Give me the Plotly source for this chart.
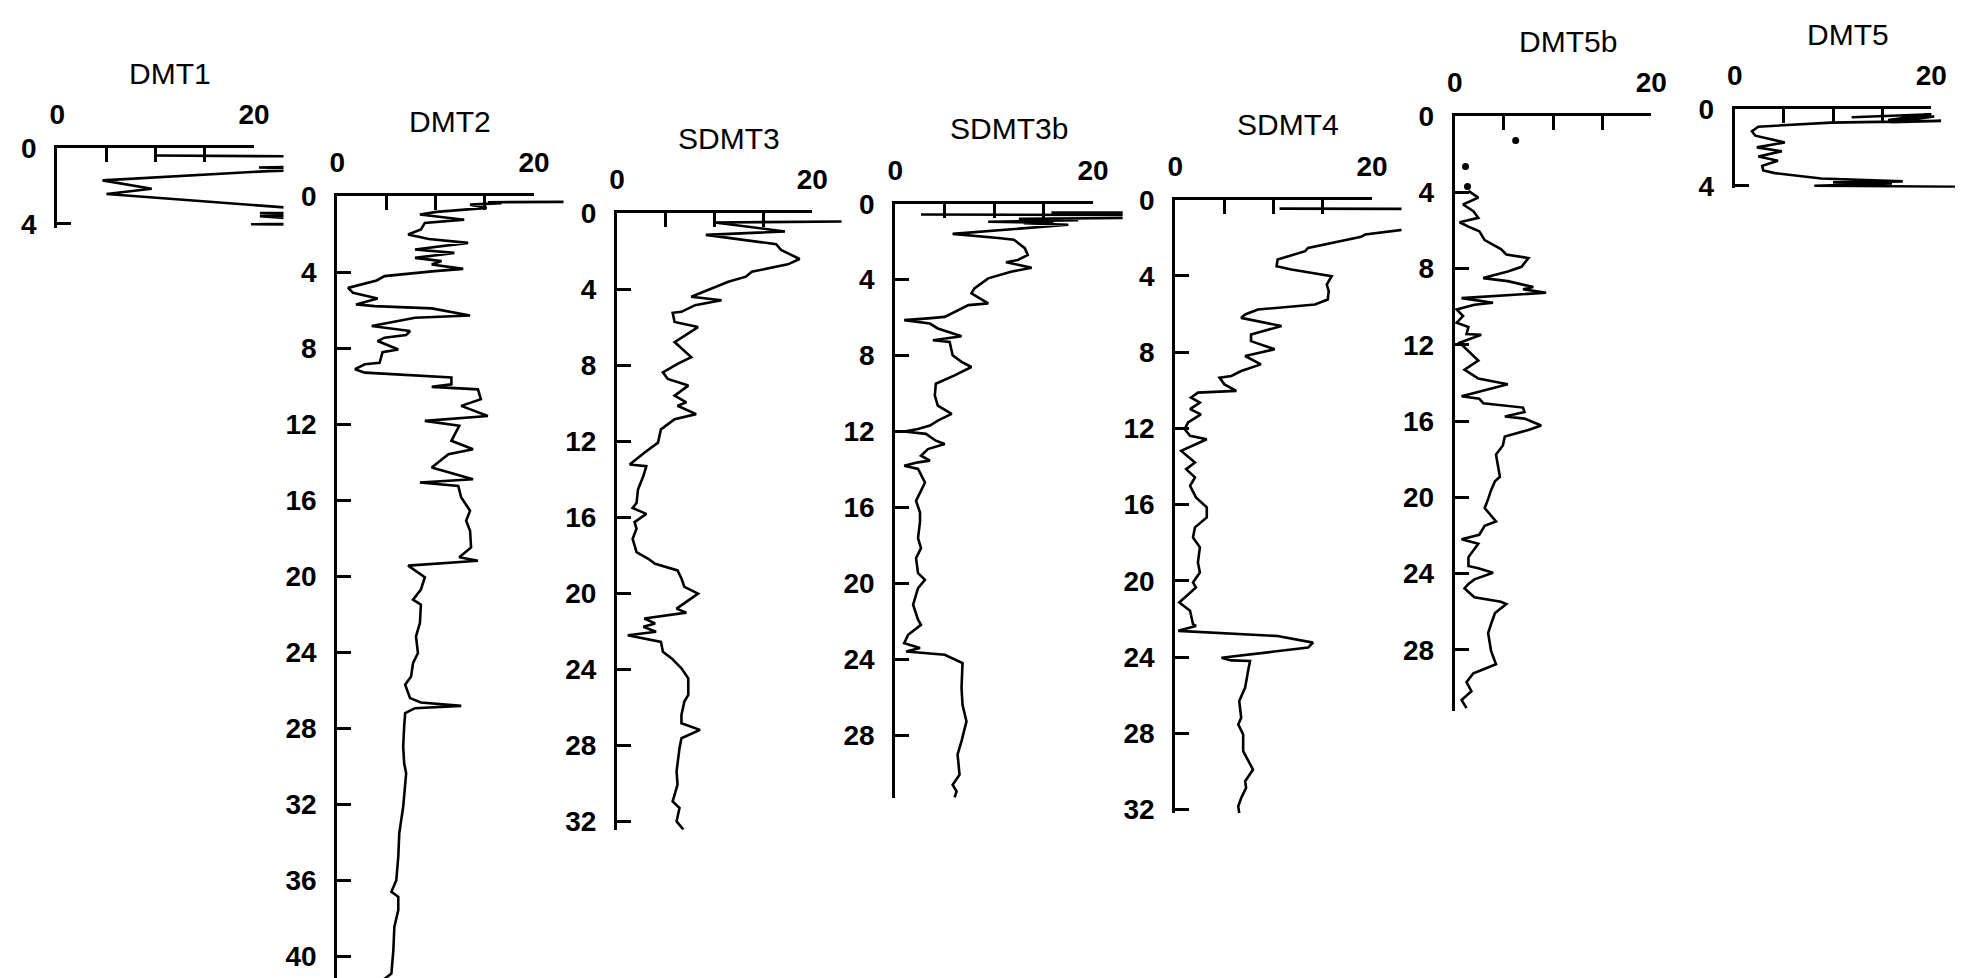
import plotly.graph_objects as go

W, H = 1963, 978

# ---------------- data (value vs depth) ----------------
dmt1_value = [9.9, 30, 30, 20.5, 30, 21.5, 4.6, 9.6, 5.0, 30, 20.6, 30, 20.6, 30, 19.7, 30]
dmt1_depth = [0.40, 0.46, 0.95, 1.03, 1.10, 1.22, 1.71, 2.15, 2.43, 3.41, 3.43, 3.50, 3.60, 3.95, 4.03, 4.06]

dmt2_value = [30, 15.3, 16.7, 13.5, 15.2, 10.1, 8.4, 12.9, 8.9, 8.5, 7.2, 9.3, 13.3, 7.9, 11.9, 7.9,
              10.6, 9.6, 12.8, 9.9, 4.8, 4.0, 1.1, 1.6, 4.1, 1.9, 3.8, 9.6, 13.5, 7.9, 3.5, 7.4,
              7.0, 4.8, 4.1, 6.2, 4.6, 4.3, 2.8, 1.8, 2.8, 11.6, 11.6, 9.6, 14.3, 14.6, 12.6, 15.3,
              8.9, 12.4, 11.6, 13.8, 11.3, 9.6, 13.8, 8.4, 12.3, 12.6, 13.5, 13.1, 13.5, 13.6, 12.4,
              14.3, 7.2, 8.9, 8.5, 7.7, 8.5, 8.4, 8.0, 8.2, 7.7, 7.5, 6.9, 7.4, 8.5, 12.6, 7.9, 6.9,
              6.8, 6.7, 6.8, 7.0, 6.7, 6.3, 6.2, 6.0, 5.5, 6.2, 6.2, 5.8, 5.7, 5.5, 4.6, 5.2]
dmt2_depth = [0.28, 0.31, 0.36, 0.44, 0.61, 0.82, 0.96, 1.23, 1.40, 1.75, 2.01, 2.25, 2.45, 2.80, 2.98, 3.24,
              3.41, 3.59, 3.82, 3.94, 4.20, 4.43, 4.82, 5.08, 5.38, 5.69, 5.78, 5.90, 6.27, 6.39, 6.83, 7.09,
              7.30, 7.44, 7.62, 8.06, 8.20, 8.76, 8.84, 9.10, 9.28, 9.54, 9.90, 10.03, 10.16, 10.68, 11.03, 11.56,
              11.82, 12.08, 12.87, 13.31, 13.57, 14.27, 14.89, 15.06, 15.24, 15.85, 16.55, 17.08, 17.60, 18.48, 19.00,
              19.18, 19.44, 20.05, 20.70, 21.23, 21.49, 22.46, 23.16, 24.04, 24.57, 25.27, 25.71, 26.41, 26.64, 26.82, 26.94, 27.20,
              27.90, 28.96, 29.84, 30.37, 32.13, 33.53, 34.76, 36.00, 36.60, 36.87, 37.57, 38.45, 39.68, 40.91, 41.27, 41.40]

sdmt3_value = [30, 10.0, 17.2, 9.1, 16.3, 16.8, 18.7, 17.5, 13.8, 13.2, 11.4, 9.7, 9.0, 7.6, 10.7, 8.0,
               6.6, 5.7, 5.9, 8.3, 5.9, 7.6, 6.2, 4.7, 5.2, 7.3, 5.9, 7.1, 6.2, 8.1, 5.9, 4.5, 4.2,
               2.8, 1.3, 3.0, 2.7, 2.15, 2.0, 1.6, 3.0, 1.8, 2.0, 1.6, 2.0, 3.2, 3.9, 6.2, 6.6, 6.9,
               8.3, 7.3, 6.1, 7.1, 2.8, 3.9, 2.7, 4.0, 1.1, 4.5, 4.7, 5.6, 6.6, 7.3, 7.3, 6.9, 6.6,
               6.6, 8.5, 6.6, 6.4, 6.1, 6.2, 5.7, 6.4, 6.1, 6.8]
sdmt3_depth = [0.42, 0.50, 0.97, 1.15, 1.64, 1.94, 2.42, 2.70, 3.09, 3.35, 3.62, 3.97, 4.14, 4.41, 4.59, 4.85,
               5.20, 5.25, 5.73, 6.00, 6.79, 7.58, 7.94, 8.38, 8.73, 9.08, 9.61, 9.96, 10.14, 10.58, 10.85, 11.38, 12.08,
               12.61, 13.23, 13.32, 13.84, 14.55, 15.26, 15.52, 15.83, 16.26, 16.61, 17.14, 17.84, 18.19, 18.45, 18.80, 19.23, 19.67,
               20.02, 20.37, 20.81, 21.02, 21.33, 21.59, 21.77, 22.03, 22.21, 22.56, 23.08, 23.43, 23.95, 24.48, 25.35, 25.70, 26.40,
               26.84, 27.19, 27.63, 28.15, 29.37, 30.07, 30.95, 31.30, 32.00, 32.43]

sdmt3b_value = [2.6, 30, 30, 15.8, 30, 30, 12.5, 18.5, 9.4, 16.0, 13.0, 17.5, 5.8, 10.4, 12.0, 13.1, 13.4,
                12.4, 11.2, 13.8, 11.7, 9.4, 8.0, 7.7, 9.4, 7.4, 6.0, 5.0, 3.3, 0.9, 3.5, 4.3, 6.7, 3.8,
                5.5, 5.8, 6.7, 7.7, 6.0, 4.1, 4.0, 4.3, 5.7, 4.3, 3.5, 2.3, 0.9, 3.1, 4.1, 5.0, 3.3,
                2.6, 3.5, 2.3, 0.9, 2.3, 3.0, 2.5, 2.1, 2.5, 2.5, 2.3, 2.6, 2.1, 2.3, 3.0, 2.3, 1.8,
                2.3, 2.6, 1.3, 0.9, 2.5, 1.1, 5.0, 6.8, 6.7, 6.8, 7.2, 6.7, 6.3, 6.5, 5.8, 6.2, 6.0]
sdmt3b_depth = [0.57, 0.60, 0.45, 0.47, 0.50, 0.72, 0.80, 0.87, 0.95, 1.00, 1.03, 1.11, 1.59, 1.81, 1.90, 2.34, 2.70,
                2.96, 3.08, 3.37, 3.58, 3.93, 4.46, 4.72, 5.25, 5.34, 5.69, 5.96, 6.04, 6.13, 6.31, 6.57, 6.98, 7.19,
                7.28, 7.98, 8.33, 8.60, 9.04, 9.48, 10.10, 10.63, 11.07, 11.42, 11.68, 11.86, 12.00, 12.12, 12.48, 12.65, 12.92,
                13.27, 13.53, 13.62, 13.80, 13.97, 14.68, 15.21, 15.65, 16.26, 16.74, 17.61, 18.14, 18.67, 19.46, 19.81, 20.25, 21.12,
                21.91, 22.18, 22.70, 23.14, 23.40, 23.58, 23.75, 24.19, 25.50, 26.39, 27.26, 28.30, 29.00, 30.07, 30.60, 30.95, 31.26]

sdmt4_value = [10.6, 30, 30, 19.3, 18.9, 13.5, 13.2, 10.4, 10.3, 11.8, 15.9, 15.4, 15.6, 15.5, 14.2, 8.4,
               7.1, 6.7, 10.8, 7.7, 7.7, 10.1, 7.1, 8.7, 6.7, 5.7, 4.5, 5.0, 6.2, 2.3, 1.6, 2.5, 1.5,
               2.6, 1.3, 0.95, 1.5, 3.2, 0.6, 2.0, 1.1, 2.0, 1.5, 2.1, 3.2, 3.2, 2.0, 1.8, 2.5, 2.3,
               2.5, 1.8, 2.1, 1.3, 0.4, 1.5, 1.8, 2.1, 0.3, 10.4, 14.0, 13.5, 4.7, 5.7, 7.6, 7.4, 7.1,
               6.5, 6.7, 6.4, 6.9, 6.9, 7.6, 7.9, 7.1, 7.2, 6.7, 6.4, 6.5]
sdmt4_depth = [0.47, 0.49, 1.13, 1.83, 1.95, 2.53, 2.70, 3.14, 3.49, 3.66, 4.01, 4.45, 4.80, 5.24, 5.50, 5.76,
               6.02, 6.20, 6.63, 7.07, 7.42, 7.85, 8.20, 8.64, 8.99, 9.25, 9.34, 9.69, 10.03, 10.12, 10.38, 10.65, 10.99,
               11.26, 11.69, 12.04, 12.39, 12.57, 13.18, 13.79, 14.14, 14.57, 15.01, 15.62, 16.14, 16.67, 17.19, 17.72, 18.24, 19.03,
               19.56, 20.08, 20.35, 20.70, 21.13, 21.57, 22.27, 22.36, 22.62, 22.89, 23.24, 23.50, 24.03, 24.17, 24.20, 24.73, 25.60,
               26.30, 27.18, 27.53, 28.06, 28.93, 29.63, 29.90, 30.51, 30.86, 31.39, 31.83, 32.18]

dmt5b_dot_value = [6.2, 1.1, 1.3]
dmt5b_dot_depth = [1.29, 2.65, 3.70]
dmt5b_value = [1.4, 2.4, 0.85, 1.9, 2.4, 0.5, 1.4, 2.5, 3.05, 4.7, 5.25, 7.5, 6.8, 5.4, 2.9, 5.4, 8.0, 6.95,
               9.3, 0.7, 3.9, 2.0, 0.2, 0.85, 0.2, 1.4, 1.2, 2.7, 0.5, 1.5, 2.4, 1.0, 2.4, 5.4, 0.7, 2.5,
               2.9, 6.95, 7.1, 5.1, 7.1, 8.8, 7.5, 5.1, 4.9, 4.2, 4.4, 4.6, 4.1, 3.7, 3.4, 3.05, 4.2,
               3.05, 2.5, 0.7, 2.4, 1.4, 1.4, 2.4, 3.9, 2.0, 1.4, 1.0, 2.0, 4.7, 5.25, 4.1, 3.7, 3.4,
               3.7, 4.2, 2.5, 1.9, 1.2, 1.7, 0.7, 1.2]
dmt5b_depth = [3.93, 4.28, 4.64, 4.99, 5.34, 5.57, 5.80, 6.04, 6.51, 6.98, 7.26, 7.45, 7.91, 8.15, 8.50, 8.66, 8.97, 9.08,
               9.27, 9.55, 9.79, 9.90, 10.14, 10.49, 10.84, 11.07, 11.43, 11.47, 11.89, 12.36, 12.83, 13.30, 13.77, 14.07, 14.70, 14.82,
               15.06, 15.29, 15.52, 15.76, 15.87, 16.23, 16.46, 16.81, 17.28, 17.75, 18.45, 18.92, 19.15, 19.62, 20.09, 20.56, 21.26,
               21.49, 21.96, 22.20, 22.43, 23.13, 23.60, 23.72, 23.95, 24.30, 24.54, 24.77, 25.24, 25.47, 25.59, 26.06, 26.64, 27.11,
               28.05, 28.75, 29.10, 29.22, 29.69, 30.16, 30.62, 31.05]

dmt5_value = [11.9, 20.0, 15.6, 20.3, 15.9, 21.0, 9.8, 2.4, 1.75, 2.1, 5.1, 2.25, 4.8, 2.4, 4.4, 2.8,
              2.9, 4.1, 8.8, 17.1, 10.0, 16.0, 8.1, 30]
dmt5_depth = [0.43, 0.27, 0.57, 0.39, 0.69, 0.62, 0.71, 0.92, 1.16, 1.39, 1.74, 2.00, 2.20, 2.47, 2.70, 2.96,
              3.20, 3.34, 3.62, 3.77, 3.82, 3.88, 4.00, 4.08]

panel_names = ["DMT1", "DMT2", "SDMT3", "SDMT3b", "SDMT4", "DMT5b", "DMT5"]
panel_values = [dmt1_value, dmt2_value, sdmt3_value, sdmt3b_value, sdmt4_value, dmt5b_value, dmt5_value]
panel_depths = [dmt1_depth, dmt2_depth, sdmt3_depth, sdmt3b_depth, sdmt4_depth, dmt5b_depth, dmt5_depth]
x_tickvals = [0, 5, 10, 15, 20]
x_ticktext = ["0", "", "", "", "20"]

# ---------------- layout geometry (pixels) ----------------
geom = [
    dict(x0=49.3, sx=9.835, y0=140.0, sy=18.93, ymax=4.2, yt=[0, 4]),
    dict(x0=329.3, sx=9.835, y0=188.3, sy=19.0, ymax=41.56, yt=list(range(0, 41, 4))),
    dict(x0=609.0, sx=9.765, y0=205.0, sy=19.01, ymax=32.45, yt=list(range(0, 33, 4))),
    dict(x0=887.3, sx=9.885, y0=195.7, sy=18.99, ymax=31.3, yt=list(range(0, 29, 4))),
    dict(x0=1167.3, sx=9.835, y0=191.7, sy=19.06, ymax=32.2, yt=list(range(0, 33, 4))),
    dict(x0=1446.7, sx=9.83, y0=108.0, sy=19.07, ymax=31.2, yt=list(range(0, 29, 4))),
    dict(x0=1726.7, sx=9.83, y0=101.0, sy=19.2, ymax=4.1, yt=[0, 4]),
]
XMAX = 23

FONT = "Liberation Sans, Arial, sans-serif"
tickfont = dict(family=FONT, size=28, color="black", weight="bold")

fig = go.Figure()
layout = {}
annotations = []


def ax_key(kind, n):
    return f"{kind}axis" if n == 1 else f"{kind}axis{n}"


def ax_ref(kind, n):
    return kind if n == 1 else f"{kind}{n}"


for i, (name, vals, deps, g) in enumerate(zip(panel_names, panel_values, panel_depths, geom), start=1):
    xd = 2 * i - 1   # data x axis
    xl = 2 * i       # axis-line x axis (0..20)
    left = g["x0"] / W
    right_data = (g["x0"] + XMAX * g["sx"]) / W
    right_line = (g["x0"] + 20 * g["sx"]) / W
    top = 1 - g["y0"] / H
    bottom = max(0.0, 1 - (g["y0"] + g["ymax"] * g["sy"]) / H)

    layout[ax_key("x", xd)] = dict(domain=[left, right_data], range=[0, XMAX], visible=False,
                                   anchor=ax_ref("y", i), fixedrange=True, automargin=False)
    layout[ax_key("x", xl)] = dict(domain=[left, right_line], range=[0, 20], anchor=ax_ref("y", i),
                                   side="top", showline=True, linewidth=3, linecolor="black",
                                   ticks="inside", ticklen=14, tickwidth=3, tickcolor="black",
                                   tickvals=x_tickvals, ticktext=x_ticktext, tickfont=tickfont,
                                   showgrid=False, zeroline=False, ticklabelstandoff=10,
                                   fixedrange=True, automargin=False)
    layout[ax_key("y", i)] = dict(domain=[bottom, top], range=[g["ymax"], 0], anchor=ax_ref("x", xd),
                                  side="left", showline=True, linewidth=3, linecolor="black",
                                  ticks="inside", ticklen=14, tickwidth=3, tickcolor="black",
                                  tickvals=g["yt"], tickfont=tickfont, showgrid=False, zeroline=False,
                                  ticklabelstandoff=12, fixedrange=True, automargin=False)

    fig.add_trace(go.Scatter(x=vals, y=deps, mode="lines", xaxis=ax_ref("x", xd), yaxis=ax_ref("y", i),
                             line=dict(color="black", width=2.6), showlegend=False, hoverinfo="skip"))
    fig.add_trace(go.Scatter(x=[], y=[], mode="lines", xaxis=ax_ref("x", xl), yaxis=ax_ref("y", i),
                             showlegend=False, hoverinfo="skip"))
    if name == "DMT5b":
        fig.add_trace(go.Scatter(x=dmt5b_dot_value, y=dmt5b_dot_depth, mode="markers",
                                 xaxis=ax_ref("x", xd), yaxis=ax_ref("y", i),
                                 marker=dict(color="black", size=7), showlegend=False, hoverinfo="skip"))

    annotations.append(dict(text=name, xref=f"{ax_ref('x', xd)} domain", yref=f"{ax_ref('y', i)} domain",
                            x=0.5, y=1, yshift=75, showarrow=False, xanchor="center", yanchor="middle",
                            font=dict(family=FONT, size=30, color="black")))

fig.update_layout(**layout)
fig.update_layout(template="none", width=W, height=H, autosize=False,
                  margin=dict(l=0, r=0, t=0, b=0, pad=0),
                  paper_bgcolor="white", plot_bgcolor="rgba(0,0,0,0)", annotations=annotations,
                  showlegend=False)

fig.write_html("out.html", config={"displayModeBar": False})
